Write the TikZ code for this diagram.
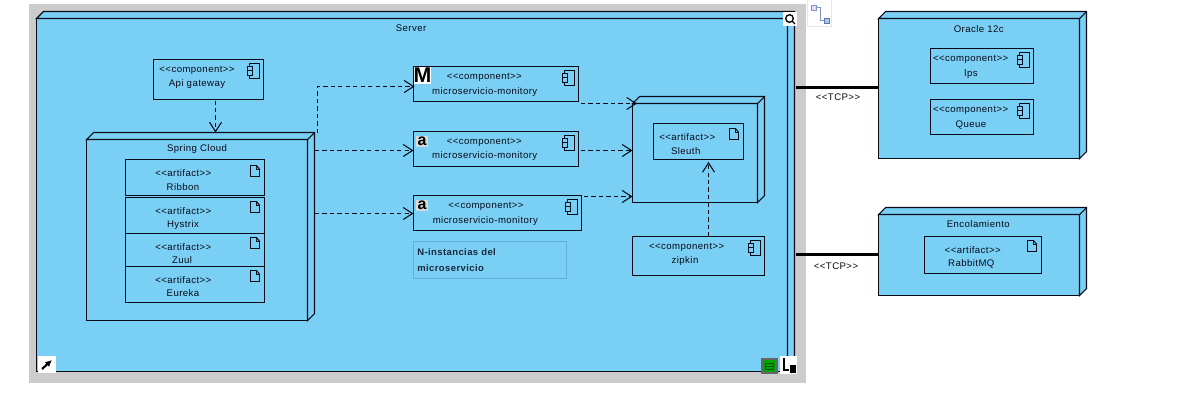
\documentclass[tikz,border=0pt]{standalone}
\usepackage{fontspec}
\setmainfont[LetterSpace=4.5]{Liberation Sans}
\usetikzlibrary{arrows.meta}
\definecolor{umlblue}{RGB}{122,207,245}
\definecolor{umlline}{RGB}{8,10,24}
\definecolor{notebd}{RGB}{95,178,214}
\definecolor{handlegrey}{RGB}{204,204,204}
\newcommand{\stc}{<{}<component>{}>}
\newcommand{\sta}{<{}<artifact>{}>}
\tikzset{
  x=0.75pt,y=-0.75pt,
  boxline/.style={draw=umlline,line width=0.8pt,fill=umlblue},
  umlbox/.style={boxline,rectangle,inner sep=0pt,outer sep=0pt,anchor=north west},
  txt/.style={inner sep=0pt,yshift=-0.5pt,text=umlline,font=\fontsize{7.2}{8}\selectfont},
  dep/.style={draw=umlline,line width=0.8pt,dash pattern=on 3.2pt off 2.4pt,
    -{Straight Barb[length=7pt,width=9pt,line width=0.8pt]}},
  tcpline/.style={draw=black,line width=2.3pt},
  iconline/.style={draw=umlline,line width=0.7pt,fill=umlblue},
}
% name x1 y1 x2 y2
\newcommand{\umlrect}[5]{%
  \node[umlbox,minimum width={(#4-#2)*0.75pt},minimum height={(#5-#3)*0.75pt}] (#1) at (#2,#3) {};}
% name x1 y1 x2 y2 (front face), depth
\newcommand{\depnode}[6]{%
  \umlrect{#1}{#2}{#3}{#4}{#5}
  \draw[boxline,line join=miter] (#1.north west) -- ([shift={(#6,-#6)}]#1.north west)
    -- ([shift={(#6,-#6)}]#1.north east) -- ([shift={(#6,-#6)}]#1.south east)
    -- (#1.south east) -- (#1.north east) -- cycle;
  \draw[umlline,line width=0.8pt] (#1.north east) -- ([shift={(#6,-#6)}]#1.north east);}
% component icon, x2 y1 = box right and top
\newcommand{\compicon}[2]{%
  \draw[iconline] (#1-14,#2+4) rectangle (#1-4,#2+19);
  \draw[iconline] (#1-16,#2+7) rectangle (#1-11,#2+11);
  \draw[iconline] (#1-16,#2+11) rectangle (#1-11,#2+16);}
% artifact icon
\newcommand{\artifacticon}[2]{%
  \draw[iconline,line join=miter] (#1-14,#2+7) -- (#1-8,#2+7) -- (#1-5,#2+10.5)
    -- (#1-5,#2+18) -- (#1-14,#2+18) -- cycle;
  \draw[umlline,line width=0.6pt] (#1-8,#2+7) -- (#1-8,#2+10.5) -- (#1-5,#2+10.5);}
\begin{document}
\begin{tikzpicture}
\useasboundingbox (0,0) rectangle (1191,411);
\fill[white] (0,0) rectangle (1191,411);
% handle frame
\fill[handlegrey] (29,4) rectangle (805.5,382.5);
% connector tool icon
\draw[draw={rgb,255:red,226;green,230;blue,240},fill=white,line width=0.7pt] (807,-1) rectangle (831.7,26);
\draw[draw={rgb,255:red,130;green,150;blue,190},line width=0.6pt] (815,7) -- (820,7) -- (820,20) -- (825,20);
\draw[draw={rgb,255:red,130;green,150;blue,190},fill={rgb,255:red,215;green,225;blue,240},line width=0.5pt] (811,5) rectangle (816,10);
\draw[draw={rgb,255:red,90;green,120;blue,170},fill={rgb,255:red,170;green,200;blue,230},line width=0.5pt] (824,18) rectangle (829,23);
% server
\depnode{server}{36.5}{18.5}{787.5}{371.5}{7}
\node[txt] (serverlbl) at (411,27.5) {Server};
% api gateway
\umlrect{api}{153.5}{59.5}{263.5}{99.5}
\compicon{263.5}{59.5}
\node[txt] (apist) at (197,70) {\stc};
\node[txt] (apitx) at (197,83) {Api gateway};
% spring cloud
\depnode{spring}{86.5}{139.5}{307.5}{320.5}{7}
\node[txt] (springlbl) at (197,148.5) {Spring Cloud};
\umlrect{ribbon}{125.5}{159.5}{264.5}{195.5}
\artifacticon{264.5}{158.5}
\node[txt] (ribbonst) at (183.3,172.5) {\sta};
\node[txt] (ribbontx) at (183,186.5) {Ribbon};
\umlrect{hystrix}{125.5}{197.5}{264.5}{233.5}
\artifacticon{264.5}{194.5}
\node[txt] (hystrixst) at (183.3,210.5) {\sta};
\node[txt] (hystrixtx) at (183,224) {Hystrix};
\umlrect{zuul}{125.5}{233.5}{264.5}{266.5}
\artifacticon{264.5}{230.5}
\node[txt] (zuulst) at (183.3,246.5) {\sta};
\node[txt] (zuultx) at (182,259.5) {Zuul};
\umlrect{eureka}{125.5}{266.5}{264.5}{302.5}
\artifacticon{264.5}{263.5}
\node[txt] (eurekast) at (183.3,279.5) {\sta};
\node[txt] (eurekatx) at (183,292.5) {Eureka};
% microservices
\umlrect{msa}{413.5}{66.5}{578.5}{101.5}
\compicon{578.5}{66.5}
\fill[white] (414,67) rectangle (431,84);
\node[inner sep=0pt,font=\fontsize{16}{16}\bfseries\selectfont,text=black] (msaicon) at (422.5,75.3) {M};
\node[txt] (msast) at (484.3,77) {\stc};
\node[txt] (msatx) at (484.7,91) {microservicio-monitory};
\umlrect{msb}{413.5}{131.5}{578.5}{166.5}
\compicon{578.5}{131.5}
\fill[white!85!black] (416,136) rectangle (428,147);
\node[inner sep=0pt,font=\fontsize{12}{12}\bfseries\selectfont,text=black] (msbicon) at (422,141) {a};
\node[txt] (msbst) at (484.3,141.7) {\stc};
\node[txt] (msbtx) at (484.7,155) {microservicio-monitory};
\umlrect{msc}{413.5}{195.5}{581.5}{230.5}
\compicon{581.5}{195.5}
\fill[white!85!black] (416,200) rectangle (428,211);
\node[inner sep=0pt,font=\fontsize{12}{12}\bfseries\selectfont,text=black] (mscicon) at (422,205) {a};
\node[txt] (mscst) at (486,205.5) {\stc};
\node[txt] (msctx) at (485.3,220) {microservicio-monitory};
% note
\node[rectangle,draw=notebd,line width=0.6pt,inner sep=0pt,outer sep=0pt,anchor=north west,
  minimum width={153*0.75pt},minimum height={37*0.75pt}] (note) at (413.5,241) {};
\node[txt,anchor=west,font=\fontsize{7.1}{8}\bfseries\selectfont,text=umlline!85!umlblue] (notea) at (417,251.5) {N-instancias del};
\node[txt,anchor=west,font=\fontsize{7.1}{8}\bfseries\selectfont,text=umlline!85!umlblue] (noteb) at (417,267) {microservicio};
% sleuth
\depnode{sleuthnode}{632.5}{103.5}{757.5}{202.5}{7}
\umlrect{sleuth}{653.5}{123.5}{743.5}{159.5}
\artifacticon{743.5}{121.5}
\node[txt] (sleuthst) at (687.3,136.7) {\sta};
\node[txt] (sleuthtx) at (685.7,150) {Sleuth};
% zipkin
\umlrect{zipkin}{632.5}{236.5}{764.5}{275.5}
\compicon{764.5}{236.5}
\node[txt] (zipkinst) at (686.7,246.7) {\stc};
\node[txt] (zipkintx) at (685,260) {zipkin};
% oracle
\depnode{oracle}{878.5}{18.5}{1079.5}{158.5}{7}
\node[txt] (oraclelbl) at (978.7,28) {Oracle 12c};
\umlrect{lps}{930.5}{48.5}{1033.5}{83.5}
\compicon{1033.5}{48.5}
\node[txt] (lpsst) at (970.7,59) {\stc};
\node[txt] (lpstx) at (971,73) {lps};
\umlrect{queue}{930.5}{99.5}{1033.5}{134.5}
\compicon{1033.5}{99.5}
\node[txt] (queuest) at (970.7,110) {\stc};
\node[txt] (queuetx) at (971,124) {Queue};
% encolamiento
\depnode{encol}{878.5}{214.5}{1079.5}{295.5}{7}
\node[txt] (encollbl) at (978.3,223.7) {Encolamiento};
\umlrect{rabbit}{924.5}{236.5}{1041.5}{273.5}
\artifacticon{1041.5}{233.5}
\node[txt] (rabbitst) at (972.7,249.3) {\sta};
\node[txt] (rabbittx) at (971.3,263) {RabbitMQ};
% connector attachment points
\coordinate (apiout) at ([shift={(7,1)}]api.south);
\coordinate (springtop) at ([shift={(0,-7)}]spring.north);
\coordinate (springa) at ([shift={(10,-6.5)}]spring.north east);
\coordinate (springb) at ([shift={(7.4,11)}]spring.north east);
\coordinate (springc) at ([shift={(7.4,74)}]spring.north east);
\coordinate (msain) at ([shift={(1,2.5)}]msa.west);
\coordinate (msaout) at ([shift={(2.4,37)}]msa.north east);
\coordinate (msbout) at ([shift={(2.4,1.5)}]msb.east);
\coordinate (mscout) at ([shift={(2.4,-16.5)}]msc.east);
\coordinate (sleuthin) at ([shift={(4.5,0)}]sleuthnode.north west);
\coordinate (zipout) at ([shift={(10,0)}]zipkin.north);
\coordinate (sleuthart) at ([shift={(0,2.4)}]sleuth.south);
\coordinate (serveredge) at ([shift={(8,0)}]server.east);
\coordinate (oraclein) at ([shift={(0,-1)}]oracle.west);
\coordinate (encolin) at ([shift={(0,-0.7)}]encol.west);
% connectors
\draw[dep] (apiout) -- (apiout |- springtop);
\draw[dep] (springa) |- (msain);
\draw[dep] (springb) -- (springb -| msb.west);
\draw[dep] (springc) -- (springc -| msc.west);
\draw[dep] (msaout) -- (sleuthin);
\draw[dep] (msbout) -- (msbout -| sleuthnode.west);
\draw[dep] (mscout) -- (mscout -| sleuthnode.west);
\draw[dep] (zipout) -- (zipout |- sleuthart);
\draw[tcpline] (serveredge |- oraclein) -- (oraclein);
\draw[tcpline] (serveredge |- encolin) -- (encolin);
\node[txt] (tcpa) at (838,97) {<{}<TCP>{}>};
\node[txt] (tcpb) at (836,266) {<{}<TCP>{}>};
% handles
\fill[white] (783,12) rectangle (797,26);
\draw[black,line width=1pt] (789.5,18.5) circle (3.8);
\draw[black,line width=1pt] (792.5,21.5) -- (795,24);
\fill[white] (38,356) rectangle (56,373);
\draw[black,line width=1.6pt,-{Latex[length=5pt,width=5pt]}] (42,369) -- (52,360);
\fill[gray!80!black] (760.5,357.5) rectangle (777.5,374);
\fill[green!65!black] (763,360) rectangle (775,372);
\draw[black!70!green,line width=0.6pt] (765,363) rectangle (773,369) (765,366) -- (773,366);
\fill[white] (780,356) rectangle (797,374);
\draw[black,line width=1.2pt] (784,358) -- (784,370) -- (789,370);
\fill[black] (790,365) rectangle (796,373);
\end{tikzpicture}
\end{document}
